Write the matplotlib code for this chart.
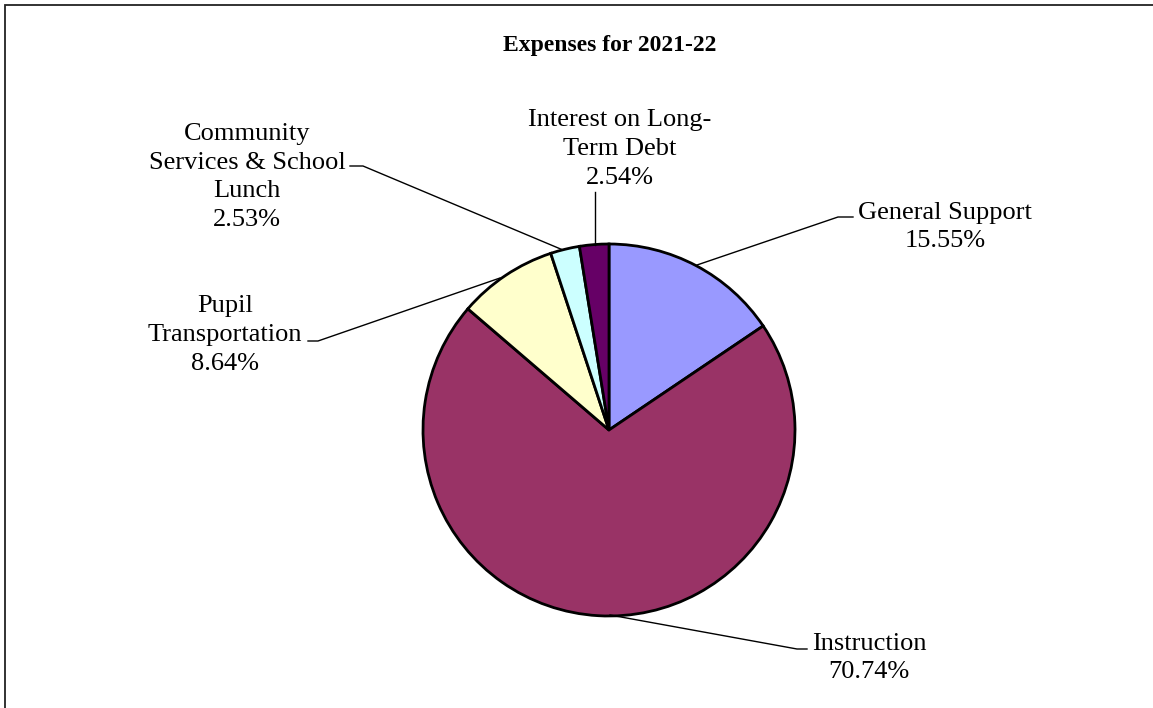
import matplotlib
matplotlib.use("Agg")
import matplotlib.pyplot as plt
from matplotlib.patches import Rectangle

title = "Expenses for 2021-22"
categories = ["General Support", "Instruction", "Pupil\nTransportation",
              "Community\nServices & School\nLunch", "Interest on Long-\nTerm Debt"]
values = [15.55, 70.74, 8.64, 2.53, 2.54]
colors = ["#9999FF", "#993366", "#FFFFCC", "#CCFFFF", "#660066"]

W, H = 1153, 708
fig = plt.figure(figsize=(W / 100, H / 100), dpi=100)
ax = fig.add_axes([0, 0, 1, 1])

font = dict(family="Liberation Serif", size=19)

cx, cy, r = 609, H - 430, 186
wedges, _ = ax.pie(values, colors=colors, startangle=90, counterclock=False,
                   center=(cx, cy), radius=r, frame=True,
                   wedgeprops=dict(edgecolor="black", linewidth=2))
ax.set_xlim(0, W)
ax.set_ylim(0, H)
ax.set_aspect("equal")
ax.axis("off")

ax.add_patch(Rectangle((5, -10), W + 20, H - 5 + 10, fill=False,
                       edgecolor="#222222", linewidth=1.3, zorder=10))

ax.text(610, H - 45, title, ha="center", va="center",
        fontweight="bold", family="Liberation Serif", size=17)

# label layout: (text center x, text center y in pixel coords, leader points in pixel coords)
layout = [
    (945, 227, [(697, 265), (838, 217), (853, 217)]),
    (869, 658, [(610, 615), (797, 649), (807, 649)]),
    (225, 335, [(500, 278), (318, 341), (308, 341)]),
    (247, 177, [(563, 250), (363, 166), (350, 166)]),
    (620, 149, [(595, 245), (595, 192)]),
]

for cat, val, (tx, ty, pts) in zip(categories, values, layout):
    ax.text(tx, H - ty, f"{cat}\n{val:.2f}%", ha="center", va="center",
            linespacing=1.4, **font)
    xs = [p[0] for p in pts]
    ys = [H - p[1] for p in pts]
    ax.plot(xs, ys, color="black", linewidth=1)

fig.savefig("out.png", dpi=100)
